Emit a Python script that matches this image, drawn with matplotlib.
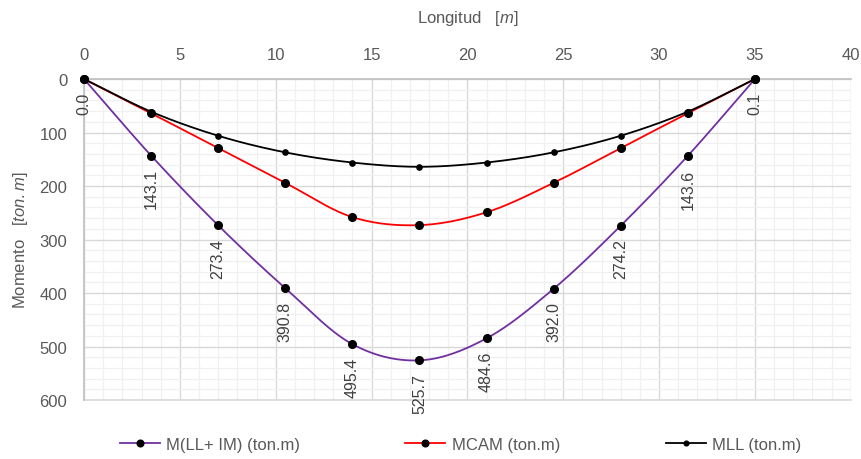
import numpy as np
import matplotlib
matplotlib.use("Agg")
import matplotlib.pyplot as plt
from matplotlib.ticker import MultipleLocator

plt.rcParams['font.family'] = ['Liberation Sans', 'DejaVu Sans']
plt.rcParams['mathtext.fontset'] = 'custom'
plt.rcParams['mathtext.rm'] = 'Liberation Sans'
plt.rcParams['mathtext.it'] = 'Liberation Sans:italic'

# Positions along the span [m]
x = [0, 3.5, 7, 10.5, 14, 17.5, 21, 24.5, 28, 31.5, 35]
# Moment envelopes [ton.m]
m_llim = [0.0, 143.1, 273.4, 390.8, 495.4, 525.7, 484.6, 392.0, 274.2, 143.6, 0.1]
m_cam = [0, 64, 129, 194, 258, 273, 249, 194, 129, 64, 0]
m_ll = [0, 61, 106, 137, 156, 164, 156, 137, 106, 61, 0]

labels_llim = ["0.0", "143.1", "273.4", "390.8", "495.4", "525.7",
               "484.6", "392.0", "274.2", "143.6", "0.1"]


def smooth(xs, ys, n=30):
    """Catmull-Rom curve through the given points."""
    xs = np.asarray(xs, float)
    ys = np.asarray(ys, float)
    px = np.concatenate([[2 * xs[0] - xs[1]], xs, [2 * xs[-1] - xs[-2]]])
    py = np.concatenate([[2 * ys[0] - ys[1]], ys, [2 * ys[-1] - ys[-2]]])
    outx, outy = [], []
    t = np.linspace(0, 1, n, endpoint=False)
    for i in range(1, len(px) - 2):
        for arr, out in ((px, outx), (py, outy)):
            p0, p1, p2, p3 = arr[i - 1], arr[i], arr[i + 1], arr[i + 2]
            out.extend(0.5 * ((2 * p1) + (-p0 + p2) * t
                              + (2 * p0 - 5 * p1 + 4 * p2 - p3) * t ** 2
                              + (-p0 + 3 * p1 - 3 * p2 + p3) * t ** 3))
    outx.append(xs[-1])
    outy.append(ys[-1])
    return np.array(outx), np.array(outy)


fig = plt.figure(figsize=(8.61, 4.6), dpi=100)
ax = fig.add_axes([0.0976, 0.128, 0.8904, 0.698])

gray_txt = '#595959'
purple = '#7030A0'

series = [
    (m_llim, purple, 5.5, 4.8, 'M(LL+ IM) (ton.m)'),
    (m_cam, '#FF0000', 5.5, 4.8, 'MCAM (ton.m)'),
    (m_ll, '#000000', 3.8, 3.4, 'MLL (ton.m)'),
]
handles = []
for ys, col, ms, lms, lab in series:
    sx, sy = smooth(x, ys)
    ax.plot(sx, sy, color=col, lw=1.3, zorder=3, clip_on=False)
    ax.plot(x, ys, 'o', color='black', ms=ms, zorder=4, clip_on=False)
    h, = ax.plot([], [], color=col, lw=1.3, marker='o', ms=lms,
                 mfc='black', mec='black', label=lab)
    handles.append(h)

for xi, yi, t in zip(x, m_llim, labels_llim):
    ax.annotate(t, (xi, yi), xytext=(0, -9), textcoords='offset points',
                rotation=90, ha='center', va='top', fontsize=11.5,
                color='#404040', zorder=5, annotation_clip=False)

ax.set_xlim(0, 40)
ax.set_ylim(600, 0)
ax.xaxis.set_major_locator(MultipleLocator(5))
ax.xaxis.set_minor_locator(MultipleLocator(1))
ax.yaxis.set_major_locator(MultipleLocator(100))
ax.yaxis.set_minor_locator(MultipleLocator(20))
ax.xaxis.tick_top()
ax.xaxis.set_label_position('top')
ax.tick_params(which='both', length=0, labelsize=12, labelcolor=gray_txt)
ax.tick_params(axis='x', pad=12)
ax.tick_params(axis='y', pad=12)

ax.grid(which='major', color='#d9d9d9', lw=1.0, zorder=1)
ax.grid(which='minor', color='#f0f0f0', lw=0.9, zorder=0)
ax.set_axisbelow(True)
for side in ('right', 'bottom'):
    ax.spines[side].set_visible(False)
for side in ('top', 'left'):
    ax.spines[side].set_color('#bfbfbf')
    ax.spines[side].set_linewidth(1.2)
ax.axhline(600, color='#d9d9d9', lw=1.2, zorder=1, clip_on=False)

ax.set_xlabel(r'Longitud   $\mathit{[m]}$', fontsize=12, color=gray_txt,
              labelpad=18)
ax.set_ylabel(r'Momento   $\mathit{[ton.m]}$', fontsize=12, color=gray_txt,
              labelpad=7)

fig.legend(handles=handles, loc='lower center', ncol=3, frameon=False,
           bbox_to_anchor=(0.535, -0.018), fontsize=12, labelcolor=gray_txt,
           columnspacing=6.3, handlelength=2.4, handletextpad=0.4)

fig.savefig('out.png', dpi=100)
